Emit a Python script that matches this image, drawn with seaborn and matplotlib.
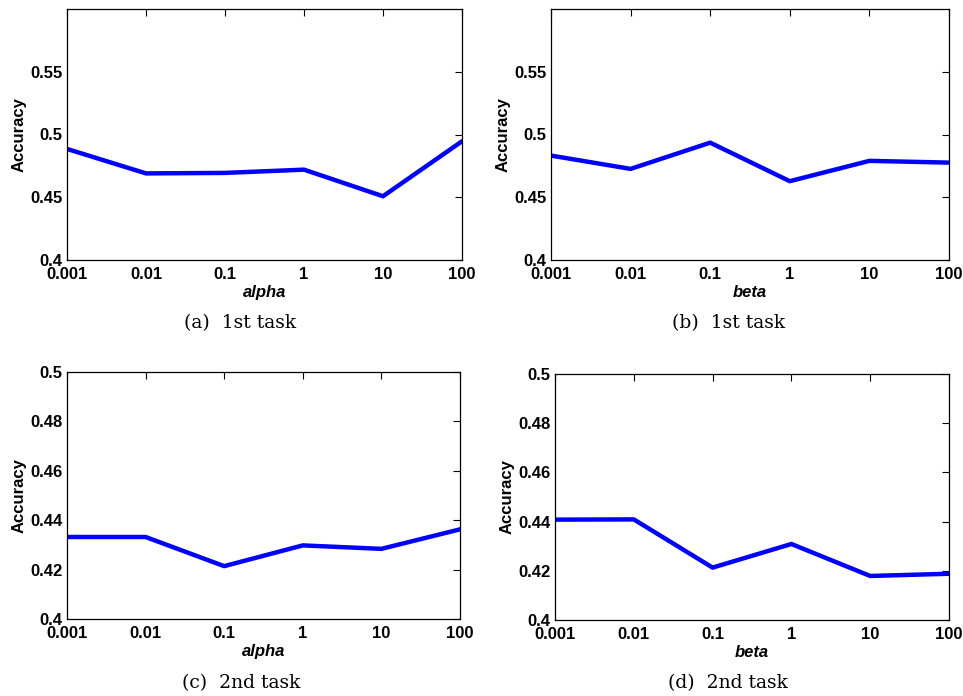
import matplotlib
matplotlib.use("Agg")
import matplotlib.pyplot as plt
import seaborn as sns
import pandas as pd

# ---- data ----
param_labels = ["0.001", "0.01", "0.1", "1", "10", "100"]
acc_task1_alpha = [0.4885, 0.4690, 0.4694, 0.4720, 0.4508, 0.4946]
acc_task1_beta = [0.4832, 0.4726, 0.4935, 0.4628, 0.4790, 0.4776]
acc_task2_alpha = [0.4332, 0.4332, 0.4214, 0.4298, 0.4284, 0.4363]
acc_task2_beta = [0.4408, 0.4409, 0.4213, 0.4309, 0.4179, 0.4188]
xlabels = ["alpha", "beta", "alpha", "beta"]
captions = ["(a)  1st task", "(b)  1st task", "(c)  2nd task", "(d)  2nd task"]
ylims = [(0.4, 0.6), (0.4, 0.6), (0.4, 0.5), (0.4, 0.5)]
yticks = [[0.4, 0.45, 0.5, 0.55], [0.4, 0.45, 0.5, 0.55],
          [0.4, 0.42, 0.44, 0.46, 0.48, 0.5], [0.4, 0.42, 0.44, 0.46, 0.48, 0.5]]
ytick_labels = [["0.4", "0.45", "0.5", "0.55"], ["0.4", "0.45", "0.5", "0.55"],
                ["0.4", "0.42", "0.44", "0.46", "0.48", "0.5"],
                ["0.4", "0.42", "0.44", "0.46", "0.48", "0.5"]]
series = [acc_task1_alpha, acc_task1_beta, acc_task2_alpha, acc_task2_beta]

sns.set_style("white")
plt.rcParams["font.family"] = ["Liberation Sans", "DejaVu Sans"]
plt.rcParams["text.color"] = "black"
plt.rcParams["axes.labelcolor"] = "black"
plt.rcParams["xtick.color"] = "black"
plt.rcParams["ytick.color"] = "black"

W, H = 963, 696
fig = plt.figure(figsize=(W / 100, H / 100), dpi=100)

# axes boxes in pixel coords: left, top, right, bottom
boxes = [(67, 9, 462, 260), (551, 9, 949, 260),
         (67, 372, 460, 619), (555, 374, 949, 620)]
cap_pos = [(240, 323), (729, 323), (241, 683), (728, 683)]

for i in range(4):
    l, t, r, b = boxes[i]
    ax = fig.add_axes([l / W, 1 - b / H, (r - l) / W, (b - t) / H])
    df = pd.DataFrame({"x": list(range(len(param_labels))), "acc": series[i]})
    sns.lineplot(data=df, x="x", y="acc", ax=ax, color="#0000ff", linewidth=3.2)
    ax.set_xlim(0, len(param_labels) - 1)
    ax.set_ylim(*ylims[i])
    ax.set_xticks(range(len(param_labels)))
    ax.set_xticklabels(param_labels, fontsize=12, fontweight="bold")
    ax.set_yticks(yticks[i])
    ax.set_yticklabels(ytick_labels[i], fontsize=12, fontweight="bold")
    ax.tick_params(direction="in", length=5, width=0.8, top=True, right=True,
                   colors="black")
    ax.tick_params(axis="x", pad=5)
    ax.tick_params(axis="y", pad=3)
    for s in ax.spines.values():
        s.set_visible(True)
        s.set_color("black")
        s.set_linewidth(0.9)
    ax.set_xlabel(xlabels[i], fontsize=12, fontweight="bold", fontstyle="italic",
                  labelpad=2, color="black")
    ax.set_ylabel("Accuracy", fontsize=12, fontweight="bold", labelpad=3,
                  color="black")
    cx, cy = cap_pos[i]
    fig.text(cx / W, 1 - cy / H, captions[i], ha="center", va="center",
             fontsize=13.5, family="DejaVu Serif", color="black")

fig.savefig("out.png", dpi=100)
